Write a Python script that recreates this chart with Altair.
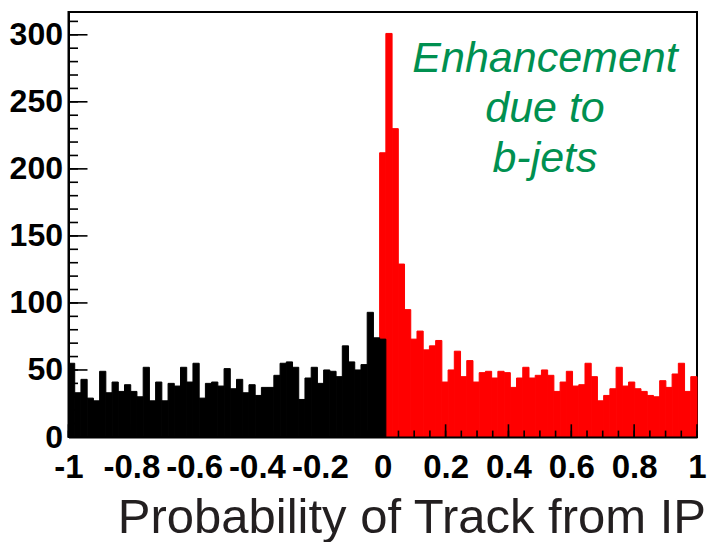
import altair as alt
import numpy as np
import pandas as pd

# ---- data (counts per bin) ----
black_counts = [55, 33, 43, 29, 27, 49, 33, 41, 34, 39,
                34, 30, 52, 27, 41, 27, 40, 38, 52, 41,
                55, 29, 40, 41, 38, 51, 36, 43, 33, 39,
                31, 37, 37, 46, 55, 56, 52, 28, 44, 52,
                40, 50, 49, 45, 68, 56, 50, 54, 93, 74,
                73]
red_counts = [212, 301, 230, 129, 95, 73, 79, 65, 68, 72,
              41, 50, 64, 45, 57, 41, 48, 49, 44, 49,
              48, 37, 44, 52, 44, 46, 50, 46, 34, 41,
              49, 38, 39, 55, 45, 27, 31, 36, 52, 38,
              41, 36, 34, 31, 30, 42, 37, 47, 55, 34,
              45]
n_bins = 101
x_range = [-1.0, 1.0]
y_range = [0, 317]
x_major = [-1, -0.8, -0.6, -0.4, -0.2, 0, 0.2, 0.4, 0.6, 0.8, 1]
x_minor = [round(v, 2) for v in np.arange(-1.0, 1.0001, 0.05)]
y_major = [0, 50, 100, 150, 200, 250, 300]
y_minor = list(range(0, 311, 10))
annotation_lines = ["Enhancement", "due to", "b-jets"]
x_title = "Probability of Track from IP"

edges = np.linspace(x_range[0], x_range[1], n_bins + 1)
black_df = pd.DataFrame({"lo": edges[0:51], "hi": edges[1:52], "count": black_counts})
red_df = pd.DataFrame({"lo": edges[50:101], "hi": edges[51:102], "count": red_counts})

W, H = 628.5, 425
FONT = "Liberation Sans"

xs = alt.Scale(domain=x_range, nice=False, zero=False)
ys = alt.Scale(domain=y_range, nice=False, zero=True)

xaxis = alt.Axis(values=x_major, labelExpr="toString(round(datum.value*10)/10)",
                 ticks=False, grid=False, domain=True, domainColor="black", domainWidth=2,
                 labelFont=FONT, labelFontSize=33, labelFontWeight="bold", labelColor="black",
                 labelPadding=14, labelFlush=False, labelOverlap=False, labelBound=False,
                 title=x_title, titleFont=FONT, titleFontSize=49, titleFontWeight="normal",
                 titleColor="#231f20", titleX=637, titleY=95, titleAlign="right",
                 titleAnchor="end", titleBaseline="alphabetic", zindex=1)
yaxis = alt.Axis(values=y_major, ticks=False, grid=False, domain=True, domainColor="black",
                 domainWidth=2, labelFont=FONT, labelFontSize=32, labelFontWeight="bold",
                 labelColor="black", labelPadding=6, labelFlush=False, labelOverlap=False,
                 title=None, zindex=1)

red = alt.Chart(red_df).mark_rect(color="#ff0000", stroke="#ff0000", strokeWidth=1).encode(
    x=alt.X("lo:Q", scale=xs, axis=xaxis), x2="hi",
    y=alt.Y("count:Q", scale=ys, axis=yaxis), y2=alt.datum(0))
black = alt.Chart(black_df).mark_rect(color="#000000", stroke="#000000", strokeWidth=1).encode(
    x=alt.X("lo:Q", scale=xs, axis=xaxis), x2="hi",
    y=alt.Y("count:Q", scale=ys, axis=yaxis), y2=alt.datum(0))

def xticks(vals, length):
    return alt.Chart(pd.DataFrame({"lo": vals})).mark_rule(color="black", strokeWidth=1.6).encode(
        x=alt.X("lo:Q", scale=xs, axis=xaxis), y=alt.value(H), y2=alt.value(H - length))

def yticks(vals, length):
    return alt.Chart(pd.DataFrame({"count": vals})).mark_rule(color="black", strokeWidth=1.6).encode(
        y=alt.Y("count:Q", scale=ys, axis=yaxis), x=alt.value(0), x2=alt.value(length))

note = alt.Chart(pd.DataFrame({"a": [0]})).mark_text(
    text=annotation_lines, font=FONT, fontSize=43, fontStyle="italic", color="#009050",
    align="center", baseline="alphabetic", lineHeight=50).encode(
    x=alt.value(476.5), y=alt.value(60))

chart = alt.layer(
    red, black,
    xticks(x_minor, 6.4), xticks(x_major, 12.7),
    yticks(y_minor, 9.5), yticks(y_major, 19),
    note,
).properties(
    width=W, height=H,
    autosize=alt.AutoSizeParams(type="none"),
    padding={"left": 60.5, "top": 4, "right": 11, "bottom": 105},
).configure_view(stroke="black", strokeWidth=2)

chart.save("out.html", embed_options={"renderer": "svg", "actions": False})
